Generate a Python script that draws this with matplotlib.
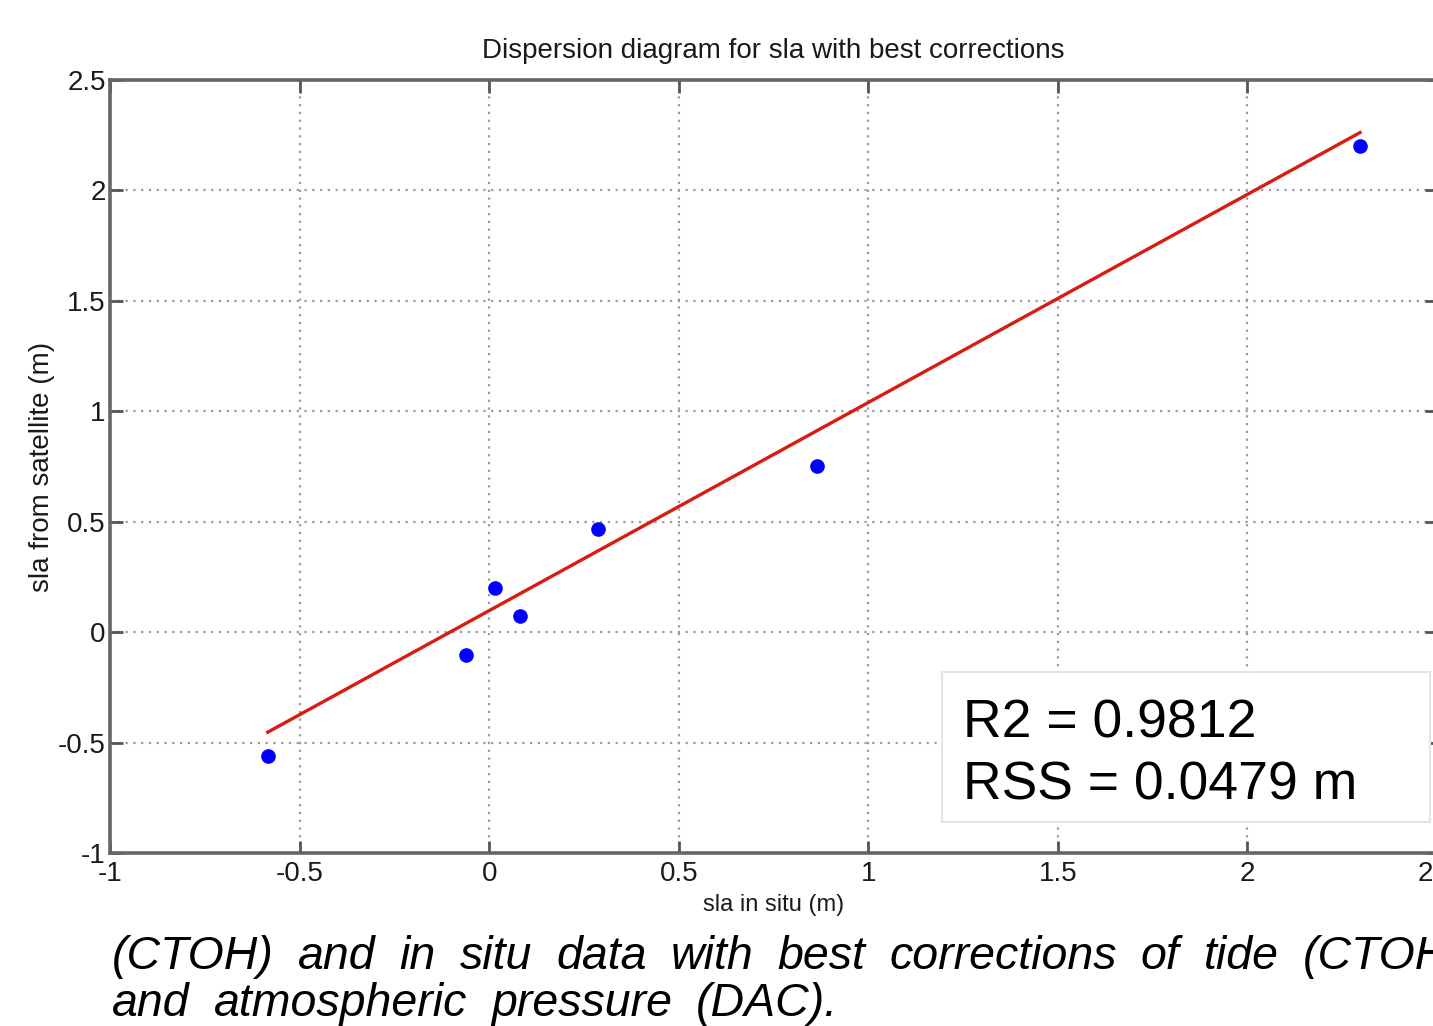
import matplotlib
matplotlib.use('Agg')
import matplotlib.pyplot as plt
from matplotlib.patches import Rectangle

# Data
slaInSitu = [-0.584, -0.06, 0.016, 0.082, 0.287, 0.866, 2.297]
slaSatellite = [-0.562, -0.104, 0.20, 0.073, 0.467, 0.752, 2.203]
fitX = [-0.584, 2.297]
fitY = [-0.453, 2.262]
xTicks = [-1, -0.5, 0, 0.5, 1, 1.5, 2, 2.5]
yTicks = [-1, -0.5, 0, 0.5, 1, 1.5, 2, 2.5]
statLines = ['R2 = 0.9812', 'RSS = 0.0479 m']
captionLines = [
    '(CTOH) and in situ data with best corrections of tide (CTOH)',
    'and atmospheric pressure (DAC).',
]

W, H = 1433, 1026
arial = ['Liberation Sans', 'DejaVu Sans']

fig = plt.figure(figsize=(W / 100, H / 100), dpi=100)
ax = fig.add_axes([110 / W, 173 / H, 1327 / W, 773 / H])

ax.plot(slaInSitu, slaSatellite, 'o', color='#0000ff', markersize=9.5, zorder=3)
ax.plot(fitX, fitY, '-', color='#d81c10', linewidth=2.4, zorder=2)

ax.set_xlim(-1, 2.5)
ax.set_ylim(-1, 2.5)
ax.set_xticks(xTicks)
ax.set_yticks(yTicks)
ax.set_xticklabels([('%g' % t) for t in xTicks])
ax.set_yticklabels([('%g' % t) for t in yTicks])
ax.grid(True, linestyle=(0, (1, 2.5)), color='#9a9a9a', linewidth=1.6)
ax.tick_params(direction='in', length=9, width=2, color='#555555',
               top=True, right=True, labelsize=20)
ax.tick_params(axis='x', pad=6)
ax.tick_params(axis='y', pad=3)
for lab in ax.get_xticklabels() + ax.get_yticklabels():
    lab.set_family(arial)
    lab.set_color('#1a1a1a')
for sp in ax.spines.values():
    sp.set_color('#666666')
    sp.set_linewidth(2.6)

ax.set_title('Dispersion diagram for sla with best corrections',
             family=arial, fontsize=20, pad=16, color='#1a1a1a')
ax.set_xlabel('sla in situ (m)', family=arial, fontsize=17, labelpad=5, color='#1a1a1a')
ax.set_ylabel('sla from satellite (m)', family=arial, fontsize=20, labelpad=2, color='#1a1a1a')

# white box with fit statistics
fig.patches.append(Rectangle((942 / W, 204 / H), 488 / W, 150 / H,
                             transform=fig.transFigure, facecolor='white',
                             edgecolor='#e4e4e4', linewidth=1.5, zorder=5))
fig.text(963 / W, 288 / H, statLines[0], family=arial, fontsize=38.5, zorder=6)
fig.text(963 / W, 226 / H, statLines[1], family=arial, fontsize=38.5, zorder=6)

# caption below, justified-looking word spacing
fig.canvas.draw()
renderer = fig.canvas.get_renderer()
gap = 24
baselines = [57, 10]
for line, base in zip(captionLines, baselines):
    xpix = 112
    for word in line.split(' '):
        t = fig.text(xpix / W, base / H, word, family=arial, style='italic',
                     fontsize=33.5)
        xpix += t.get_window_extent(renderer).width + gap

fig.savefig('out.png', dpi=100)
